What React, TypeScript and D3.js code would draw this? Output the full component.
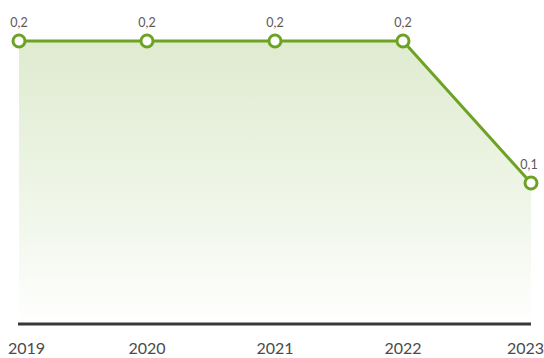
import React from "react";
import * as d3 from "d3";

const years: string[] = ["2019", "2020", "2021", "2022", "2023"];
const values: number[] = [0.2, 0.2, 0.2, 0.2, 0.1];
const valueLabels: string[] = ["0,2", "0,2", "0,2", "0,2", "0,1"];

const W = 544;
const H = 358;
const GREEN = "#6ea225";

export default function App() {
  const x = d3.scalePoint<string>().domain(years).range([19, 531]);
  const y = d3.scaleLinear().domain([0, 0.2]).range([325, 41]);

  const pts = years.map((yr, i) => ({ yr, v: values[i], lab: valueLabels[i] }));

  const line = d3
    .line<{ yr: string; v: number }>()
    .x((d) => x(d.yr) as number)
    .y((d) => y(d.v));
  const area = d3
    .area<{ yr: string; v: number }>()
    .x((d) => x(d.yr) as number)
    .y0(y(0))
    .y1((d) => y(d.v));

  const font = "Lato, 'Open Sans', sans-serif";

  return (
    <svg
      width={W}
      height={H}
      style={{ position: "absolute", left: 0, top: 0, background: "#fff" }}
    >
      <defs>
        <linearGradient id="ag" x1="0" y1="0" x2="0" y2="1">
          <stop offset="0%" stopColor="#dfebd0" />
          <stop offset="60%" stopColor="#f0f6e9" />
          <stop offset="100%" stopColor="#ffffff" />
        </linearGradient>
      </defs>
      <path d={area(pts) || ""} fill="url(#ag)" />
      <line
        x1={(x(years[0]) as number) - 1}
        x2={x(years[years.length - 1]) as number}
        y1={324}
        y2={324}
        stroke="#383838"
        strokeWidth={3}
      />
      <path d={line(pts) || ""} fill="none" stroke={GREEN} strokeWidth={3} />
      {pts.map((d) => (
        <circle
          key={d.yr}
          cx={x(d.yr) as number}
          cy={y(d.v)}
          r={6}
          fill="#fff"
          stroke={GREEN}
          strokeWidth={3}
        />
      ))}
      {pts.map((d, i) => (
        <text
          key={"l" + d.yr}
          x={(x(d.yr) as number) - (i === pts.length - 1 ? 2 : 0)}
          y={y(d.v) - 14}
          textAnchor="middle"
          fontFamily={font}
          fontSize={12.5}
          fill="#5a5a5a"
        >
          {d.lab}
        </text>
      ))}
      {years.map((yr, i) => {
        const first = i === 0;
        const last = i === years.length - 1;
        return (
          <text
            key={"x" + yr}
            x={first ? 8 : last ? 544 : (x(yr) as number)}
            y={354}
            textAnchor={first ? "start" : last ? "end" : "middle"}
            fontFamily={font}
            fontSize={16}
            fill="#4a4a4a"
          >
            {yr}
          </text>
        );
      })}
    </svg>
  );
}
